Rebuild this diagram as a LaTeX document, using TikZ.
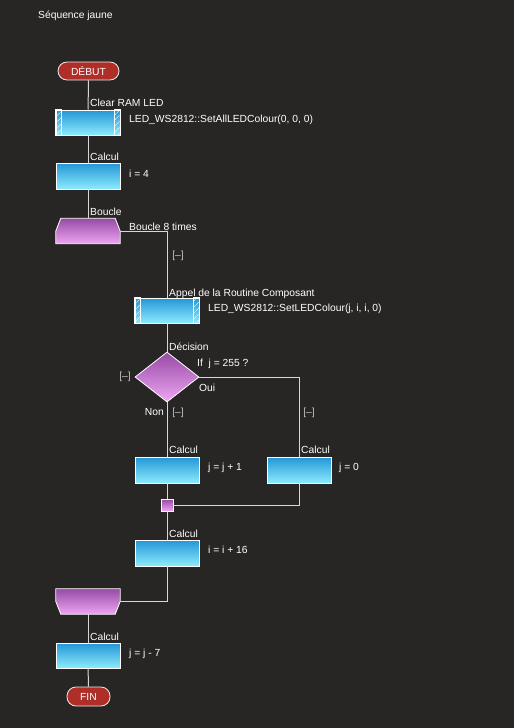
\documentclass[tikz,border=0pt]{standalone}
\usepackage{fontspec}
\setmainfont{Liberation Sans}
\usetikzlibrary{shapes.geometric,patterns.meta}
\definecolor{bgc}{RGB}{40,38,36}
\definecolor{wirec}{RGB}{215,215,215}
\definecolor{tagc}{RGB}{195,195,195}
\definecolor{calctop}{RGB}{36,150,215}
\definecolor{calcbot}{RGB}{140,235,252}
\definecolor{looptop}{RGB}{150,75,165}
\definecolor{loopbot}{RGB}{238,165,242}
\definecolor{pillc}{RGB}{176,46,40}

\begin{document}
\begin{tikzpicture}[x=1pt,y=-1pt,
  wire/.style={draw=wirec,line width=1pt},
  txt/.style={text=white,font=\fontsize{10.3}{12}\selectfont,inner sep=0pt,anchor=base west},
  tag/.style={text=tagc,font=\fontsize{10.3}{12}\selectfont,inner sep=0pt},
  calcbox/.style={draw=white,line width=0.8pt,top color=calctop,bottom color=calcbot,minimum width=64pt,minimum height=26pt,inner sep=0pt},
  loopbox/.style={draw=white,line width=0.8pt,top color=looptop,bottom color=loopbot},
  pill/.style={draw=white!85!gray,line width=0.8pt,fill=pillc,rounded corners=9pt,text=white,font=\fontsize{10.3}{12}\selectfont,inner sep=0pt},
  hatch/.style={draw=white,line width=0.6pt,pattern={Lines[angle=45,distance=4pt,line width=0.6pt]},pattern color=white!80}
]
 \fill[bgc] (0,0) rectangle (514,728);

 \node[txt] (title) at (38,18) {Séquence jaune};

 \node[pill,minimum width=61pt,minimum height=18pt] (DEB) at (88.5,71) {DÉBUT};

 \node[calcbox,minimum height=25pt] (CLR) at (88,122.5) {};
 \draw[hatch] (CLR.north west) rectangle ([xshift=6pt]CLR.south west);
 \draw[hatch] (CLR.north east) rectangle ([xshift=-6pt]CLR.south east);
 \node[txt] (lCLR) at (90,106) {Clear RAM LED};
 \node[txt] (tCLR) at (129,122) {LED\_WS2812::SetAllLEDColour(0, 0, 0)};

 \node[calcbox] (I4) at (88,176) {};
 \node[txt] (lI4) at (90,160) {Calcul};
 \node[txt] (tI4) at (129,177) {i = 4};

 \node[minimum width=64pt,minimum height=25pt,inner sep=0pt] (LP) at (88,231) {};
 \draw[loopbox] (LP.south west) -- (LP.west) -- ([xshift=5pt]LP.north west)
   -- ([xshift=-5pt]LP.north east) -- (LP.east) -- (LP.south east) -- cycle;
 \node[txt] (lLP) at (90,215) {Boucle};
 \node[txt] (tLP) at (129,230) {Boucle 8 times};
 \node[tag] (bLP) at (178,256) {[–]};

 \node[calcbox,minimum height=25pt] (AP) at (167,310.5) {};
 \draw[hatch] (AP.north west) rectangle ([xshift=6pt]AP.south west);
 \draw[hatch] (AP.north east) rectangle ([xshift=-6pt]AP.south east);
 \node[txt] (lAP) at (169,296) {Appel de la Routine Composant};
 \node[txt] (tAP) at (208,311) {LED\_WS2812::SetLEDColour(j, i, i, 0)};

 \node[diamond,loopbox,minimum width=64pt,minimum height=50pt,inner sep=0pt] (DEC) at (167,377) {};
 \node[txt] (lDEC) at (169,350) {Décision};
 \node[txt] (tDEC) at (197,366) {If\ \ j = 255 ?};
 \node[tag] (bDEC) at (125,377) {[–]};
 \node[txt] (oui) at (199,391) {Oui};
 \node[txt,anchor=base east] (non) at (164,415) {Non};
 \node[tag] (bCL) at (178,413) {[–]};
 \node[tag] (bCR) at (309,413) {[–]};

 \node[calcbox] (CL) at (167,470) {};
 \node[txt] (lCL) at (169,453) {Calcul};
 \node[txt] (tCL) at (208,470) {j = j + 1};
 \node[calcbox] (CR) at (299,470) {};
 \node[txt] (lCR) at (301,453) {Calcul};
 \node[txt] (tCR) at (339,470) {j = 0};

 \node[loopbox,minimum size=12pt,inner sep=0pt] (J) at (167,505) {};

 \node[calcbox] (I16) at (167,553) {};
 \node[txt] (lI16) at (169,537) {Calcul};
 \node[txt] (tI16) at (208,553) {i = i + 16};

 \node[minimum width=64pt,minimum height=25pt,inner sep=0pt] (LE) at (88,601.5) {};
 \draw[loopbox] (LE.north west) -- (LE.west) -- ([xshift=5pt]LE.south west)
   -- ([xshift=-5pt]LE.south east) -- (LE.east) -- (LE.north east) -- cycle;

 \node[calcbox,minimum height=25pt] (J7) at (88,655.5) {};
 \node[txt] (lJ7) at (90,640) {Calcul};
 \node[txt] (tJ7) at (129,656) {j = j - 7};

 \node[pill,minimum width=43pt,minimum height=19pt] (FIN) at (88.5,696.5) {FIN};

 \draw[wire] (DEB) -- (CLR);
 \draw[wire] (CLR) -- (I4);
 \draw[wire] (I4) -- (LP);
 \draw[wire] (LP.east) -| (AP);
 \draw[wire] (AP) -- (DEC);
 \draw[wire] (DEC.east) -| (CR);
 \draw[wire] (DEC) -- (CL);
 \draw[wire] (CL) -- (J);
 \draw[wire] (CR) |- (J);
 \draw[wire] (J) -- (I16);
 \draw[wire] (I16) |- (LE.east);
 \draw[wire] (LE) -- (J7);
 \draw[wire] (J7) -- (FIN);

\end{tikzpicture}
\end{document}
